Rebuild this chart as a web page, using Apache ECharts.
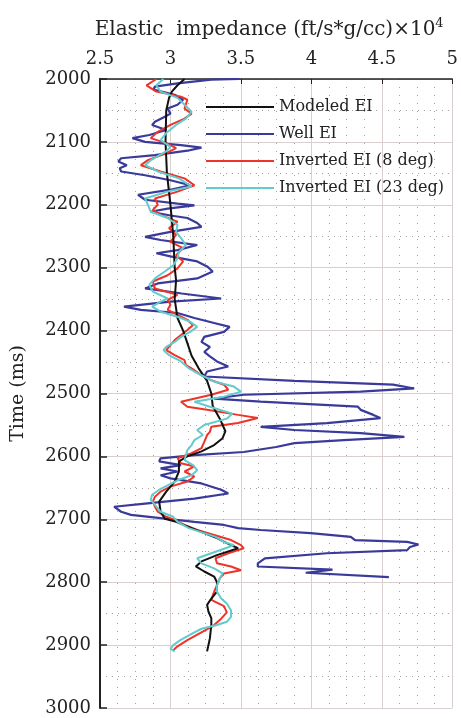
<!DOCTYPE html>
<html><head><meta charset="utf-8">
<script src="https://cdn.jsdelivr.net/npm/echarts@6/dist/echarts.min.js"></script>
<style>html,body{margin:0;padding:0;background:#fff}#c{width:461px;height:718px}</style>
</head><body><div id="c"></div>
<script>
var xTicks = [2.5, 3, 3.5, 4, 4.5, 5];
var yTicks = [2000, 2100, 2200, 2300, 2400, 2500, 2600, 2700, 2800, 2900, 3000];
var seriesNames = ['Modeled EI', 'Well EI', 'Inverted EI (8 deg)', 'Inverted EI (23 deg)'];

var modeledTime = [2000,2010,2020,2030,2050,2100,2150,2200,2250,2300,2320,2350,2380,2400,2420,2440,2460,2480,2500,2520,2540,2560,2571,2582,2592,2600,2608,2624,2640,2656,2672,2688,2699,2704,2714,2722,2730,2738,2746,2757,2767,2775,2783,2791,2800,2815,2826,2836,2847,2857,2868,2889,2910];
var modeledEI = [3.10,3.05,3.01,2.99,2.97,2.965,2.975,3.0,3.02,3.03,3.04,3.03,3.05,3.09,3.12,3.15,3.20,3.26,3.29,3.30,3.35,3.39,3.37,3.31,3.22,3.12,3.06,3.06,3.03,2.97,2.92,2.93,2.96,3.04,3.15,3.24,3.33,3.40,3.48,3.33,3.22,3.18,3.24,3.31,3.33,3.33,3.29,3.26,3.27,3.29,3.29,3.28,3.26];

var wellTime = [2000,2001,2007,2012,2017,2025,2033,2041,2047,2055,2060,2068,2073,2081,2089,2094,2100,2105,2109,2114,2121,2126,2131,2137,2142,2147,2153,2161,2169,2176,2184,2192,2198,2201,2206,2211,2217,2221,2229,2235,2243,2251,2256,2264,2272,2277,2282,2290,2298,2306,2317,2325,2333,2341,2349,2354,2362,2367,2372,2380,2388,2394,2402,2410,2418,2426,2434,2441,2449,2457,2465,2473,2480,2486,2492,2497,2502,2508,2513,2521,2526,2534,2539,2547,2553,2558,2563,2569,2574,2579,2585,2593,2598,2603,2608,2614,2619,2624,2630,2635,2643,2653,2659,2667,2675,2680,2688,2693,2698,2704,2709,2714,2717,2722,2728,2733,2736,2740,2744,2749,2754,2762,2770,2775,2780,2785,2792];
var wellEI = [3.49,3.29,3.05,2.89,2.88,3.03,3.09,3.05,2.98,3.0,2.96,2.89,2.87,2.97,2.85,2.73,2.82,3.075,3.22,3.12,2.89,2.65,2.63,2.69,2.64,2.65,2.82,3.0,3.14,3.0,2.77,2.82,3.05,3.17,2.98,2.86,3.0,3.12,3.19,3.22,3.0,2.82,2.93,3.19,3.05,2.9,3.0,3.19,3.26,3.30,3.19,2.91,2.82,3.08,3.36,3.0,2.67,2.79,3.05,3.17,3.31,3.42,3.38,3.24,3.22,3.28,3.24,3.28,3.33,3.41,3.26,3.24,3.88,4.58,4.73,4.35,3.52,3.31,3.64,4.33,4.35,4.44,4.49,4.11,3.64,3.88,4.35,4.66,4.23,3.88,3.75,3.52,3.17,2.93,2.92,3.075,2.93,3.05,2.93,3.0,3.22,3.36,3.41,3.17,2.82,2.60,2.65,2.72,2.93,3.17,3.38,3.48,3.64,3.995,4.28,4.31,4.68,4.76,4.70,4.68,4.11,3.67,3.62,3.62,4.15,3.96,4.55];

var inv8Time = [2000,2010,2020,2028,2033,2047,2055,2063,2073,2084,2094,2102,2110,2118,2129,2137,2147,2158,2169,2179,2190,2200,2208,2216,2227,2237,2248,2259,2269,2280,2290,2301,2312,2322,2333,2343,2351,2359,2367,2375,2383,2391,2399,2407,2415,2423,2431,2439,2447,2455,2463,2471,2479,2486,2494,2502,2513,2521,2526,2534,2539,2547,2553,2561,2566,2577,2587,2595,2603,2611,2616,2624,2632,2640,2648,2656,2664,2672,2680,2688,2696,2701,2709,2717,2725,2733,2741,2746,2754,2762,2770,2775,2781,2786,2794,2805,2815,2828,2838,2848,2858,2870,2881,2892,2902,2908];
var inv8EI = [2.90,2.83,2.90,3.075,3.12,3.10,3.15,3.10,3.0,2.91,2.86,2.97,3.04,2.97,2.84,2.79,2.93,3.10,3.17,3.05,2.89,2.91,2.875,2.93,3.05,2.99,3.04,3.0,3.09,3.04,3.09,3.05,2.98,2.875,2.89,3.05,2.98,3.0,2.98,3.05,3.12,3.16,3.12,3.075,3.03,3.0,2.97,3.03,3.10,3.11,3.17,3.22,3.29,3.38,3.41,3.29,3.075,3.12,3.26,3.48,3.62,3.48,3.29,3.28,3.26,3.24,3.22,3.15,3.05,3.075,3.17,3.10,3.17,3.12,3.0,2.93,2.89,2.875,2.89,2.91,2.97,3.03,3.10,3.19,3.31,3.43,3.5,3.52,3.41,3.32,3.33,3.43,3.5,3.38,3.35,3.33,3.31,3.29,3.38,3.40,3.36,3.30,3.21,3.12,3.05,3.02];

var inv23Time = [2000,2010,2020,2030,2041,2052,2063,2073,2086,2097,2108,2115,2129,2137,2147,2158,2171,2179,2190,2200,2211,2221,2232,2243,2253,2264,2275,2285,2296,2306,2317,2327,2338,2349,2354,2362,2370,2378,2386,2394,2402,2410,2418,2426,2431,2439,2449,2460,2471,2481,2489,2497,2505,2513,2521,2532,2540,2550,2558,2566,2574,2582,2590,2598,2606,2614,2622,2630,2638,2646,2653,2661,2669,2677,2688,2696,2704,2714,2722,2728,2736,2741,2746,2754,2762,2770,2778,2786,2794,2805,2815,2826,2834,2845,2855,2863,2868,2874,2881,2892,2900,2906,2910];
var inv23EI = [2.95,2.90,2.93,3.05,3.10,3.15,3.11,3.04,2.97,2.93,3.0,2.97,2.86,2.82,2.91,3.06,3.15,2.98,2.82,2.84,2.86,2.98,3.05,3.04,3.075,3.11,3.06,3.05,3.02,2.96,2.89,2.85,2.875,2.98,2.93,2.87,2.93,3.05,3.14,3.19,3.14,3.075,3.03,2.97,2.95,2.99,3.075,3.13,3.22,3.31,3.45,3.50,3.38,3.17,3.28,3.44,3.40,3.24,3.19,3.23,3.17,3.15,3.12,3.11,3.10,3.16,3.19,3.15,3.05,2.98,2.92,2.87,2.86,2.89,2.93,3.02,3.05,3.13,3.24,3.32,3.38,3.45,3.39,3.29,3.19,3.22,3.31,3.37,3.35,3.33,3.33,3.36,3.40,3.43,3.43,3.40,3.33,3.22,3.16,3.07,3.02,3.00,3.03];

function pairs(t, v) { return t.map(function (tt, i) { return [v[i], tt]; }); }

var FONT = 'DejaVu Serif';
var chart = echarts.init(document.getElementById('c'), null, {renderer: 'canvas'});
var colors = ['#111111', '#3a3a9a', '#ee3328', '#62cbcd'];
var lists = [[modeledTime, modeledEI], [wellTime, wellEI], [inv8Time, inv8EI], [inv23Time, inv23EI]];

chart.setOption({
  animation: false,
  backgroundColor: '#ffffff',
  grid: {left: 100, right: 8, top: 79, bottom: 10},
  legend: {
    orient: 'vertical', left: 201, top: 92,
    icon: 'rect',
    itemWidth: 68, itemHeight: 2, itemGap: 7,
    textStyle: {fontFamily: FONT, fontSize: 16, color: '#222', lineHeight: 20},
    data: seriesNames
  },
  xAxis: {
    type: 'value', position: 'top',
    min: xTicks[0], max: xTicks[xTicks.length - 1], interval: 0.5,
    name: 'Elastic  impedance (ft/s*g/cc)\u00d710{sup|4}',
    nameLocation: 'middle', nameGap: 37,
    nameTextStyle: {fontFamily: FONT, fontSize: 20, color: '#222', padding: [0, 14, 0, 0],
      rich: {sup: {fontFamily: FONT, fontSize: 13, color: '#222', verticalAlign: 'top', padding: [0, 0, 12, 0]}}},
    axisLine: {show: true, lineStyle: {color: '#222', width: 1.5}},
    axisTick: {show: true, inside: true, length: 5, lineStyle: {color: '#222'}},
    axisLabel: {margin: 11, fontFamily: FONT, fontSize: 18, color: '#222'},
    splitLine: {show: true, lineStyle: {color: '#d9cfcf', width: 1}},
    minorTick: {show: false, splitNumber: 4},
    minorSplitLine: {show: true, lineStyle: {color: '#aaa0a0', width: 1, type: [1, 7]}}
  },
  yAxis: {
    type: 'value', inverse: true,
    min: yTicks[0], max: yTicks[yTicks.length - 1], interval: 100,
    name: 'Time (ms)', nameLocation: 'middle', nameGap: 72,
    nameTextStyle: {fontFamily: FONT, fontSize: 19, color: '#222'},
    axisLine: {show: true, lineStyle: {color: '#222', width: 2}},
    axisTick: {show: true, inside: true, length: 7, lineStyle: {color: '#222', width: 1.5}},
    axisLabel: {margin: 9, fontFamily: FONT, fontSize: 18, color: '#222',
      formatter: function (v) { return String(v); }},
    splitLine: {show: true, lineStyle: {color: '#d9cfcf', width: 1}},
    minorTick: {show: false, splitNumber: 2},
    minorSplitLine: {show: true, lineStyle: {color: '#aaa0a0', width: 1, type: [1, 5]}}
  },
  series: seriesNames.map(function (n, i) {
    return {
      name: n, type: 'line', symbol: 'none', showSymbol: false,
      data: pairs(lists[i][0], lists[i][1]),
      lineStyle: {color: colors[i], width: i === 1 ? 2.2 : 2},
      itemStyle: {color: colors[i]},
      z: i === 0 ? 5 : 2 + i
    };
  })
});
</script>
</body></html>
